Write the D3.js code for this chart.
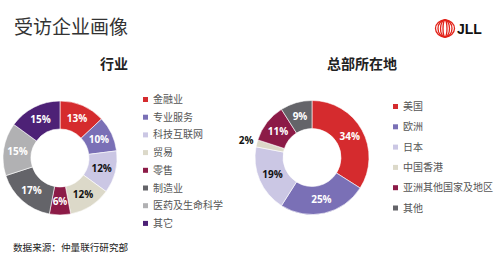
<!DOCTYPE html>
<html>
<head>
<meta charset="utf-8">
<script src="https://cdn.jsdelivr.net/npm/d3@7"></script>
<style>
  body { margin: 0; background: #fff; }
  svg { font-family: "Noto Sans CJK SC", "Noto Sans", sans-serif; }
</style>
</head>
<body>
<div id="container"></div>
<script>
// industry donut
const industryNames = ["金融业", "专业服务", "科技互联网", "贸易", "零售", "制造业", "医药及生命科学", "其它"];
const industryValues = [13, 10, 12, 12, 6, 17, 15, 15];
const industryColors = ["#d52b2e", "#7a70b6", "#cbc7e4", "#dcd9c9", "#8c1b47", "#646469", "#b1b1b3", "#4d2176"];
const industryDark = [true, true, false, false, true, true, true, true];

// headquarters donut
const hqNames = ["美国", "欧洲", "日本", "中国香港", "亚洲其他国家及地区", "其他"];
const hqValues = [34, 25, 19, 2, 11, 9];
const hqColors = ["#d52b2e", "#7a70b6", "#cbc7e4", "#dcd9c9", "#8c1b47", "#646469"];
const hqDark = [true, true, false, false, true, true];

const width = 500, height = 262;
const svg = d3.select("#container").append("svg")
  .attr("width", width).attr("height", height);

// title
svg.append("text")
  .attr("x", 14).attr("y", 34)
  .attr("font-size", 19)
  .attr("fill", "#333")
  .text("受访企业画像");

// JLL logo
const logo = svg.append("g").attr("transform", "translate(445,28.5)");
[9.5, 7, 4.5, 2].forEach(rx => {
  logo.append("ellipse")
    .attr("rx", rx).attr("ry", 8.5)
    .attr("fill", "none")
    .attr("stroke", "#e2231a")
    .attr("stroke-width", 1.3);
});
svg.append("text")
  .attr("x", 457).attr("y", 34)
  .attr("font-size", 14)
  .attr("font-weight", "bold")
  .attr("font-family", "Liberation Sans, sans-serif")
  .attr("fill", "#111")
  .text("JLL");

function donut(cx, cy, title, titleX, names, values, colors, dark, legendX, legendY, legendStep, outside) {
  const g = svg.append("g").attr("transform", "translate(" + cx + "," + cy + ")");
  const rIn = 29, rOut = 57;
  const pie = d3.pie().sort(null).value(d => d);
  const arcs = pie(values);
  const arc = d3.arc().innerRadius(rIn).outerRadius(rOut);
  const labelArc = d3.arc().innerRadius(43).outerRadius(43);
  const outerArc = d3.arc().innerRadius(68).outerRadius(68);

  g.selectAll("path")
    .data(arcs)
    .enter().append("path")
    .attr("d", arc)
    .attr("fill", (d, i) => colors[i])
    .attr("stroke", "#fff")
    .attr("stroke-width", 0.6);

  g.selectAll("text.lbl")
    .data(arcs)
    .enter().append("text")
    .attr("class", "lbl")
    .attr("transform", (d, i) => "translate(" + (outside[i] ? outerArc : labelArc).centroid(d) + ")")
    .attr("text-anchor", "middle")
    .attr("dy", "0.35em")
    .attr("font-size", 10)
    .attr("font-weight", "bold")
    .attr("font-family", "Open Sans, sans-serif")
    .attr("fill", (d, i) => (outside[i] || !dark[i]) ? "#111" : "#fff")
    .text(d => d.data + "%");

  svg.append("text")
    .attr("x", titleX).attr("y", 69)
    .attr("text-anchor", "middle")
    .attr("font-size", 14)
    .attr("font-weight", "bold")
    .attr("fill", "#222")
    .text(title);

  const leg = svg.append("g").attr("transform", "translate(" + legendX + "," + legendY + ")");
  const item = leg.selectAll("g")
    .data(names)
    .enter().append("g")
    .attr("transform", (d, i) => "translate(0," + i * legendStep + ")");
  item.append("rect")
    .attr("x", 0).attr("y", -2.5)
    .attr("width", 5).attr("height", 5)
    .attr("fill", (d, i) => colors[i]);
  item.append("text")
    .attr("x", 10).attr("dy", "0.35em")
    .attr("font-size", 10)
    .attr("fill", "#555")
    .text(d => d);
}

donut(60, 158, "行业", 114, industryNames, industryValues, industryColors, industryDark,
  143, 99.5, 17.7, industryValues.map(() => false));
donut(312, 157.5, "总部所在地", 362, hqNames, hqValues, hqColors, hqDark,
  393, 106.5, 20.3, hqValues.map(v => v < 5));

// source note
svg.append("text")
  .attr("x", 13).attr("y", 251)
  .attr("font-size", 9.6)
  .attr("fill", "#222")
  .text("数据来源：仲量联行研究部");
</script>
</body>
</html>
